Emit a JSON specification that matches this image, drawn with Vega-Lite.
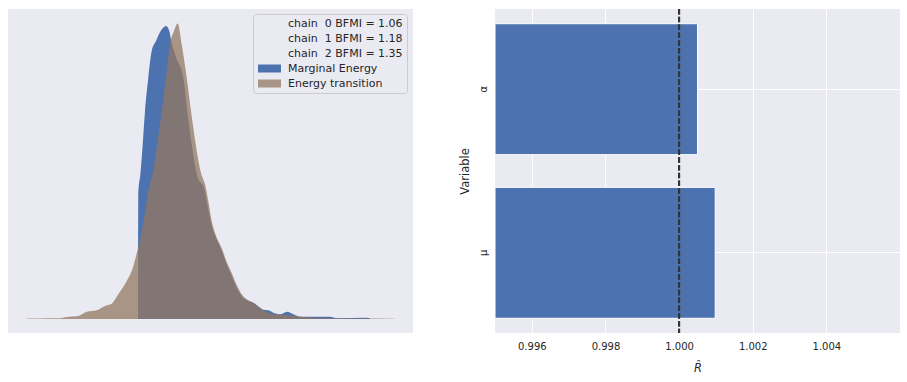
{
  "$schema": "https://vega.github.io/schema/vega-lite/v6.json",
  "background": "white",
  "padding": {"left": 8, "top": 8, "right": 0, "bottom": 0},
  "spacing": 46,
  "config": {
    "font": "DejaVu Sans",
    "view": {"fill": "#EAEAF2", "stroke": null},
    "axis": {
      "domain": false,
      "ticks": false,
      "tickSize": 0,
      "grid": true,
      "gridColor": "white",
      "gridWidth": 1,
      "labelFont": "DejaVu Sans",
      "labelFontSize": 10,
      "labelColor": "#262626",
      "titleFont": "DejaVu Sans",
      "titleFontSize": 11.5,
      "titleFontWeight": "normal",
      "titleColor": "#262626"
    }
  },
  "hconcat": [
    {
      "width": 405,
      "height": 324,
      "data": {
        "values": [
          {"series": "Marginal Energy", "x": 112, "y": 0},
          {"series": "Marginal Energy", "x": 112.3, "y": 126.3},
          {"series": "Marginal Energy", "x": 114.5, "y": 146},
          {"series": "Marginal Energy", "x": 116.7, "y": 174.7},
          {"series": "Marginal Energy", "x": 119, "y": 208},
          {"series": "Marginal Energy", "x": 122.3, "y": 241.3},
          {"series": "Marginal Energy", "x": 125.7, "y": 268},
          {"series": "Marginal Energy", "x": 130, "y": 278},
          {"series": "Marginal Energy", "x": 134.7, "y": 288},
          {"series": "Marginal Energy", "x": 140, "y": 293},
          {"series": "Marginal Energy", "x": 143.3, "y": 288},
          {"series": "Marginal Energy", "x": 145.3, "y": 278},
          {"series": "Marginal Energy", "x": 150, "y": 262},
          {"series": "Marginal Energy", "x": 157.3, "y": 241.3},
          {"series": "Marginal Energy", "x": 161.3, "y": 208},
          {"series": "Marginal Energy", "x": 165.7, "y": 174.7},
          {"series": "Marginal Energy", "x": 171.7, "y": 141.3},
          {"series": "Marginal Energy", "x": 178, "y": 131.3},
          {"series": "Marginal Energy", "x": 181.3, "y": 114.7},
          {"series": "Marginal Energy", "x": 185.7, "y": 93},
          {"series": "Marginal Energy", "x": 190.7, "y": 79.7},
          {"series": "Marginal Energy", "x": 195.7, "y": 68},
          {"series": "Marginal Energy", "x": 200.7, "y": 54.7},
          {"series": "Marginal Energy", "x": 205.7, "y": 43},
          {"series": "Marginal Energy", "x": 210.7, "y": 31.3},
          {"series": "Marginal Energy", "x": 215.7, "y": 23},
          {"series": "Marginal Energy", "x": 222.3, "y": 18},
          {"series": "Marginal Energy", "x": 229, "y": 15.3},
          {"series": "Marginal Energy", "x": 234, "y": 11.3},
          {"series": "Marginal Energy", "x": 237.3, "y": 9.3},
          {"series": "Marginal Energy", "x": 242.3, "y": 8.7},
          {"series": "Marginal Energy", "x": 247.3, "y": 6.3},
          {"series": "Marginal Energy", "x": 254, "y": 4.7},
          {"series": "Marginal Energy", "x": 261.3, "y": 7.3},
          {"series": "Marginal Energy", "x": 267.3, "y": 4.7},
          {"series": "Marginal Energy", "x": 274, "y": 2.3},
          {"series": "Marginal Energy", "x": 300.7, "y": 2.3},
          {"series": "Marginal Energy", "x": 305.7, "y": 2},
          {"series": "Marginal Energy", "x": 310.7, "y": 0.7},
          {"series": "Marginal Energy", "x": 340.7, "y": 1.3},
          {"series": "Marginal Energy", "x": 344, "y": 0.7},
          {"series": "Energy transition", "x": 0, "y": 0.3},
          {"series": "Energy transition", "x": 14, "y": 0.5},
          {"series": "Energy transition", "x": 34, "y": 0.7},
          {"series": "Energy transition", "x": 40.7, "y": 2},
          {"series": "Energy transition", "x": 52.3, "y": 3},
          {"series": "Energy transition", "x": 60.7, "y": 7.3},
          {"series": "Energy transition", "x": 70.7, "y": 8.7},
          {"series": "Energy transition", "x": 79, "y": 13},
          {"series": "Energy transition", "x": 85.7, "y": 15.3},
          {"series": "Energy transition", "x": 92.3, "y": 24.7},
          {"series": "Energy transition", "x": 100.7, "y": 38},
          {"series": "Energy transition", "x": 105.7, "y": 48},
          {"series": "Energy transition", "x": 111.3, "y": 68},
          {"series": "Energy transition", "x": 117.3, "y": 96},
          {"series": "Energy transition", "x": 122.3, "y": 128},
          {"series": "Energy transition", "x": 126.7, "y": 146},
          {"series": "Energy transition", "x": 131.3, "y": 175},
          {"series": "Energy transition", "x": 135.7, "y": 208},
          {"series": "Energy transition", "x": 140, "y": 241.3},
          {"series": "Energy transition", "x": 144.7, "y": 278},
          {"series": "Energy transition", "x": 148, "y": 288},
          {"series": "Energy transition", "x": 151.7, "y": 295.5},
          {"series": "Energy transition", "x": 155.7, "y": 274.7},
          {"series": "Energy transition", "x": 160.7, "y": 241.3},
          {"series": "Energy transition", "x": 165, "y": 208},
          {"series": "Energy transition", "x": 169.7, "y": 174.7},
          {"series": "Energy transition", "x": 175, "y": 146},
          {"series": "Energy transition", "x": 179, "y": 134.7},
          {"series": "Energy transition", "x": 182.3, "y": 118},
          {"series": "Energy transition", "x": 185.7, "y": 98},
          {"series": "Energy transition", "x": 189, "y": 86.3},
          {"series": "Energy transition", "x": 192.3, "y": 78},
          {"series": "Energy transition", "x": 195.7, "y": 71},
          {"series": "Energy transition", "x": 200.7, "y": 57},
          {"series": "Energy transition", "x": 205.7, "y": 46},
          {"series": "Energy transition", "x": 210.7, "y": 34},
          {"series": "Energy transition", "x": 215.7, "y": 24.7},
          {"series": "Energy transition", "x": 220.7, "y": 19.7},
          {"series": "Energy transition", "x": 227.3, "y": 16.3},
          {"series": "Energy transition", "x": 234, "y": 11.3},
          {"series": "Energy transition", "x": 240.7, "y": 7},
          {"series": "Energy transition", "x": 250.7, "y": 4.7},
          {"series": "Energy transition", "x": 264, "y": 3.7},
          {"series": "Energy transition", "x": 277.3, "y": 2},
          {"series": "Energy transition", "x": 307, "y": 0.7},
          {"series": "Energy transition", "x": 334, "y": 0.5},
          {"series": "Energy transition", "x": 369, "y": 0.3}
        ]
      },
      "encoding": {
        "x": {"field": "x", "type": "quantitative", "scale": {"domain": [-18, 387], "nice": false, "zero": false}, "axis": null},
        "y": {"field": "y", "type": "quantitative", "stack": null, "scale": {"domain": [-14, 310], "nice": false, "zero": false}, "axis": null},
        "y2": {"datum": 0},
        "color": {
          "field": "series",
          "type": "nominal",
          "scale": {
            "domain": ["chain \u00a00 BFMI = 1.06", "chain \u00a01 BFMI = 1.18", "chain \u00a02 BFMI = 1.35", "Marginal Energy", "Energy transition"],
            "range": ["rgba(0,0,0,0)", "rgba(0,0,0,0)", "rgba(0,0,0,0)", "#4C72B0", "rgba(147,120,96,0.75)"]
          },
          "legend": {
            "title": null,
            "orient": "none",
            "legendX": 245,
            "legendY": 5,
            "fillColor": "#EAEAF2",
            "strokeColor": "#CCCCCC",
            "cornerRadius": 3,
            "padding": 4,
            "rowPadding": 3,
            "symbolType": "M-2.3,-0.8H2.3V0.8H-2.3Z",
            "symbolSize": 100,
            "symbolStrokeWidth": 0,
            "symbolOffset": 7,
            "labelOffset": 13,
            "labelFont": "DejaVu Sans",
            "labelFontSize": 11,
            "labelColor": "#262626",
            "labelLimit": 300
          }
        }
      },
      "layer": [
        {
          "transform": [{"filter": "datum.series === 'Marginal Energy'"}],
          "mark": {"type": "area", "interpolate": "monotone"}
        },
        {
          "transform": [{"filter": "datum.series === 'Energy transition'"}],
          "mark": {"type": "area", "interpolate": "monotone"}
        }
      ]
    },
    {
      "width": 405,
      "height": 324,
      "data": {
        "values": [
          {"variable": "α", "rhat": 1.0005},
          {"variable": "μ", "rhat": 1.00098}
        ]
      },
      "layer": [
        {
          "mark": {"type": "bar", "color": "#4C72B0", "stroke": "white", "strokeWidth": 1},
          "encoding": {
            "y": {
              "field": "variable",
              "type": "nominal",
              "sort": ["α", "μ"],
              "scale": {"paddingInner": 0.2, "paddingOuter": 0.09},
              "axis": {"title": "Variable", "labelAngle": -90, "labelPadding": 7, "titlePadding": 8, "bandPosition": 0.5}
            },
            "x": {
              "field": "rhat",
              "type": "quantitative",
              "scale": {"domain": [0.995, 1.006], "nice": false, "zero": false},
              "axis": {"title": "R\u0302", "titleFontStyle": "italic", "values": [0.996, 0.998, 1.0, 1.002, 1.004], "format": ".3f", "labelPadding": 8, "titlePadding": 11}
            },
            "x2": {"datum": 0.995}
          }
        },
        {
          "mark": {"type": "rule", "color": "#333333", "strokeWidth": 2, "strokeDash": [5.5, 2.3]},
          "encoding": {"x": {"datum": 1.0}}
        }
      ]
    }
  ]
}
